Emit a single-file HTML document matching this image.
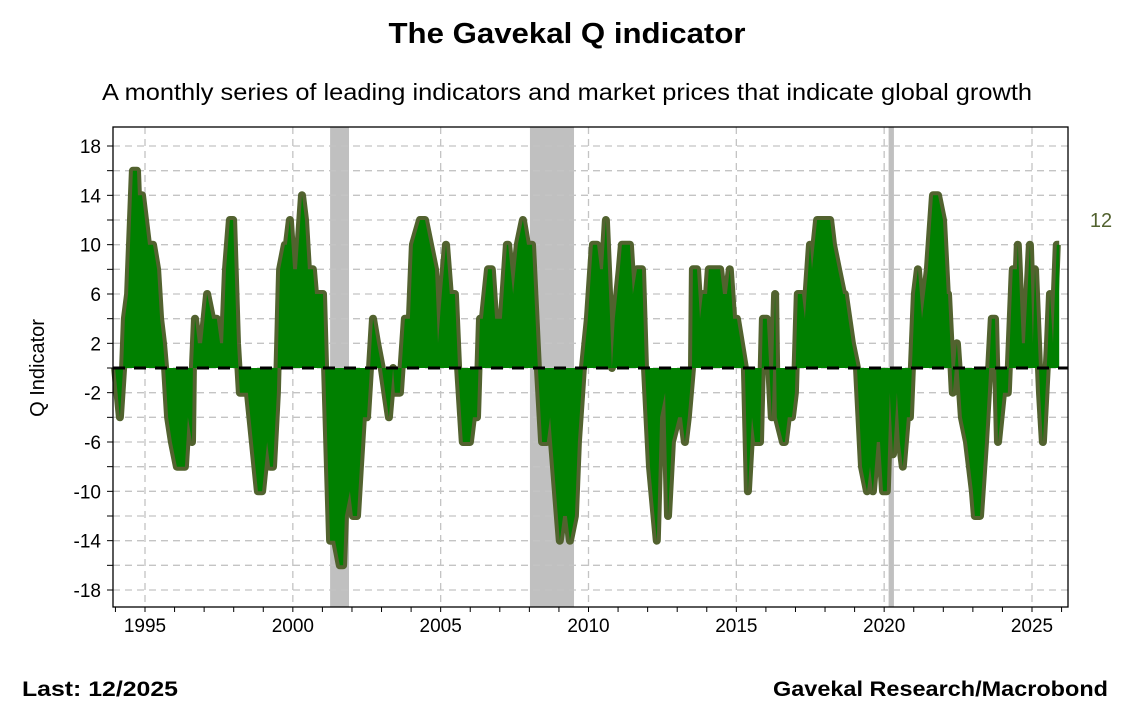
<!DOCTYPE html>
<html><head><meta charset="utf-8"><style>
body{margin:0;background:#fff;font-family:"Liberation Sans",sans-serif;}
#wrap{position:relative;width:1128px;height:726px;overflow:hidden;background:#fff;}
</style></head><body>
<div id="wrap">
<svg id="chart" width="1128" height="726">
<text x="567" y="43" text-anchor="middle" font-size="29" font-weight="bold" textLength="357" lengthAdjust="spacingAndGlyphs">The Gavekal Q indicator</text>
<text x="567" y="100" text-anchor="middle" font-size="23" textLength="930" lengthAdjust="spacingAndGlyphs">A monthly series of leading indicators and market prices that indicate global growth</text>
<text transform="translate(44,368) rotate(-90)" text-anchor="middle" font-size="20">Q Indicator</text>
<text x="22" y="696" font-size="21" font-weight="bold" textLength="156" lengthAdjust="spacingAndGlyphs">Last: 12/2025</text>
<text x="1108" y="696" text-anchor="end" font-size="21" font-weight="bold" textLength="335" lengthAdjust="spacingAndGlyphs">Gavekal Research/Macrobond</text>
<g id="bands"></g><g id="grid"></g><g id="series"></g><g id="axes"></g>
</svg>
</div>
<script>
const dates=[1993.99,1994.15,1994.26,1994.32,1994.43,1994.59,1994.73,1994.76,1994.90,1995.10,1995.27,1995.41,1995.51,1995.61,1995.68,1995.78,1995.91,1996.08,1996.35,1996.45,1996.59,1996.62,1996.69,1996.79,1996.93,1997.10,1997.27,1997.43,1997.54,1997.64,1997.74,1997.87,1997.98,1998.11,1998.21,1998.48,1998.65,1998.82,1998.96,1999.13,1999.23,1999.33,1999.46,1999.57,1999.73,1999.80,1999.90,2000.01,2000.14,2000.31,2000.41,2000.51,2000.68,2000.75,2001.02,2001.09,2001.26,2001.43,2001.59,2001.70,2001.76,2001.93,2002.03,2002.17,2002.27,2002.37,2002.51,2002.61,2002.71,2002.85,2003.01,2003.25,2003.39,2003.45,2003.62,2003.79,2003.96,2004.06,2004.30,2004.47,2004.64,2004.81,2004.91,2005.04,2005.18,2005.31,2005.48,2005.59,2005.75,2005.99,2006.09,2006.23,2006.33,2006.43,2006.60,2006.73,2006.84,2007.07,2007.24,2007.28,2007.45,2007.61,2007.78,2007.92,2008.09,2008.29,2008.43,2008.59,2008.70,2009.03,2009.14,2009.27,2009.37,2009.54,2009.64,2009.81,2009.98,2010.15,2010.29,2010.39,2010.49,2010.59,2010.73,2010.79,2010.89,2011.06,2011.13,2011.40,2011.50,2011.64,2011.81,2011.91,2012.08,2012.31,2012.42,2012.59,2012.69,2012.82,2013.03,2013.16,2013.26,2013.36,2013.50,2013.53,2013.67,2013.77,2013.87,2014.01,2014.07,2014.34,2014.45,2014.55,2014.68,2014.78,2014.89,2015.02,2015.29,2015.39,2015.53,2015.63,2015.80,2015.90,2016.03,2016.20,2016.31,2016.37,2016.58,2016.64,2016.74,2016.88,2016.98,2017.08,2017.22,2017.32,2017.49,2017.56,2017.73,2017.93,2018.07,2018.17,2018.27,2018.44,2018.61,2018.67,2018.91,2019.08,2019.25,2019.42,2019.52,2019.62,2019.75,2019.86,2019.96,2020.09,2020.19,2020.30,2020.43,2020.53,2020.63,2020.77,2020.87,2021.04,2021.14,2021.28,2021.48,2021.65,2021.82,2021.99,2022.12,2022.16,2022.32,2022.46,2022.63,2022.80,2023.00,2023.07,2023.24,2023.41,2023.51,2023.64,2023.75,2023.85,2024.02,2024.18,2024.35,2024.49,2024.52,2024.66,2024.76,2024.93,2025.03,2025.10,2025.27,2025.37,2025.54,2025.61,2025.71,2025.84,2025.92];
const qValues=[0,-4,0,4,6,16,16,14,14,10,10,8,4,2,0,-4,-6,-8,-8,-4,-6,0,4,2,2,6,4,4,2,2,8,12,12,2,-2,-2,-6,-10,-10,-6,-8,-8,-2,8,10,10,12,8,8,14,12,8,8,6,6,0,-14,-14,-16,-16,-12,-10,-12,-12,-8,-4,-4,0,4,2,0,-4,0,-2,-2,4,4,10,12,12,10,8,2,6,10,6,6,0,-6,-6,-4,-4,4,4,8,8,4,4,10,10,6,10,12,10,10,0,-6,-6,-4,-14,-12,-12,-14,-12,-6,0,4,10,10,8,8,12,4,0,4,8,10,10,6,8,8,0,-8,-14,-4,-2,-12,-6,-4,-4,-6,-4,0,8,8,4,6,6,8,8,8,6,6,8,4,4,0,-10,-4,-6,-6,4,4,-4,6,-4,-6,-6,-4,-4,-2,6,6,4,10,8,12,12,12,12,10,8,6,6,2,0,-8,-10,-8,-10,-6,-6,-10,-10,-2,-7,-2,-6,-8,-4,-4,6,8,4,8,14,14,12,6,6,-2,2,-4,-6,-10,-12,-12,-6,-2,4,4,-6,-2,-2,8,8,10,2,2,10,2,8,-2,-6,2,6,2,10,10,12];
const yTicks=[18,14,10,6,2,-2,-6,-10,-14,-18];
const xTicks=[1995,2000,2005,2010,2015,2020,2025];
const recessionStarts=[2001.26,2008.02,2020.15];
const recessionEnds=[2001.90,2009.51,2020.33];
const lastLabel="12";

const NS="http://www.w3.org/2000/svg";
const L=113,R=1068,T=127,B=607;
const X=v=>145+(v-1995)*(1032-145)/30;
const Y=v=>368-v*(444/36);
function mk(tag,attrs,parent){const e=document.createElementNS(NS,tag);for(const k in attrs)e.setAttribute(k,attrs[k]);parent.appendChild(e);return e;}
const bands=document.getElementById('bands'),grid=document.getElementById('grid'),series=document.getElementById('series'),axes=document.getElementById('axes');
for(let i=0;i<recessionStarts.length;i++){
 const r=mk('rect',{x:X(recessionStarts[i]),y:T,width:Math.max(3,X(recessionEnds[i])-X(recessionStarts[i])),height:B-T,fill:'#c0c0c0'},bands);
 
 
}
for(let v=-18;v<=18;v+=2){
 const g=mk('line',{x1:L,x2:R,y1:Y(v),y2:Y(v),stroke:'#c4c4c4','stroke-width':1.3,'stroke-dasharray':'7,5'},grid);
 
 
 const t=mk('line',{x1:L-6,x2:L,y1:Y(v),y2:Y(v),stroke:'#000','stroke-width':1},axes);
 
 
}
yTicks.forEach(v=>{
 const t=mk('text',{x:L-12,y:Y(v)+7,'text-anchor':'end','font-size':19},axes);t.textContent=v;
 
 
});
xTicks.forEach(v=>{
 const g=mk('line',{x1:X(v),x2:X(v),y1:T,y2:B,stroke:'#c4c4c4','stroke-width':1.3,'stroke-dasharray':'7,5'},grid);
 
 
 const t=mk('text',{x:X(v),y:B+25,'text-anchor':'middle','font-size':19},axes);t.textContent=v;
 
 
});
for(let yr=1994;yr<=2026;yr++){
 const t=mk('line',{x1:X(yr),x2:X(yr),y1:B,y2:B+5,stroke:'#000','stroke-width':1},axes);
 
 
}
let pts=dates.map((d,i)=>X(d).toFixed(1)+','+Y(qValues[i]).toFixed(1));
const line=mk('polyline',{points:pts.join(' '),fill:'none',stroke:'#52622f','stroke-width':8,'stroke-linejoin':'round'},series);


const area=mk('path',{d:'M'+X(dates[0])+','+Y(0)+' L'+pts.join(' L')+' L'+X(dates[dates.length-1])+','+Y(0)+' Z',fill:'#008000'},series);


const zero=mk('line',{x1:L,x2:R,y1:Y(0),y2:Y(0),stroke:'#000','stroke-width':3,'stroke-dasharray':'12,9'},series);


const frame=mk('rect',{x:L,y:T,width:R-L,height:B-T,fill:'none',stroke:'#000','stroke-width':1.3},axes);


const ll=mk('text',{x:1101,y:Y(qValues[qValues.length-1])+7,'text-anchor':'middle','font-size':20,fill:'#52622f'},axes);ll.textContent=lastLabel;


</script>
</body></html>
